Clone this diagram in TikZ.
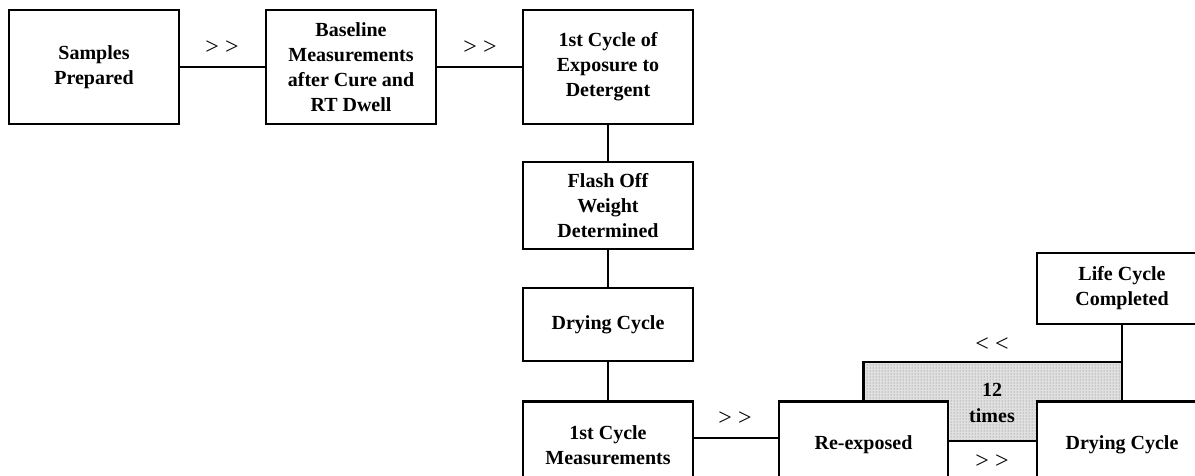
\documentclass[tikz,border=0pt]{standalone}
\usepackage{fontspec}
\setmainfont{Liberation Serif}
\usetikzlibrary{patterns,backgrounds}
\begin{document}
\begin{tikzpicture}[x=1pt,y=-1pt,
  box/.style={draw,line width=2.7pt,fill=white,minimum width=170pt,inner sep=0pt,
              align=center,font=\fontsize{20}{25}\selectfont\bfseries},
  conn/.style={line width=2.4pt},
  lbl/.style={inner sep=0pt,font=\fontsize{24}{24}\selectfont},
  cnt/.style={inner sep=0pt,align=center,font=\fontsize{20}{26}\selectfont\bfseries}]
\useasboundingbox (0,0) rectangle (1195,476);
\clip (0,0) rectangle (1195,476);

% boxes
\node[box,minimum height=114pt] (sp) at (94,67) {Samples\\Prepared};
\node[box,minimum height=114pt] (bl) at (351,67) {Baseline\\Measurements\\after Cure and\\RT Dwell};
\node[box,minimum height=114pt] (ce) at (608,67) {1st Cycle of\\Exposure to\\Detergent};
\node[box,minimum height=87pt] (fo) at (608,205.5) {Flash Off\\Weight\\Determined};
\node[box,minimum height=73pt] (dc) at (608,324.5) {Drying Cycle};
\node[box,minimum height=87pt] (cm) at (608,445) {1st Cycle\\Measurements};
\node[box,minimum height=87pt,minimum width=169pt] (re) at (863.5,445) {Re-exposed};
\node[box,minimum height=87pt] (dr) at (1122,445) {Drying Cycle};
\node[box,minimum height=71pt] (lc) at (1122,288.5) {Life Cycle\\Completed};

% loop coordinate
\coordinate (lp) at (992,362);

% shaded repeat area
\begin{scope}[on background layer]
\fill[white] (0,0) rectangle (1195,476);
\path[fill=black!12,postaction={pattern=dots,pattern color=black!55}]
  (re.north) -- (re.north |- lp) -- (dr.north |- lp) -- (dr.north)
  -- (dr.north west) -- ([yshift=4pt]dr.west) -- ([yshift=4pt]re.east)
  -- (re.north east) -- cycle;
\end{scope}

% connectors
\draw[conn] (sp) -- (bl);
\draw[conn] (bl) -- (ce);
\draw[conn] (ce) -- (fo);
\draw[conn] (fo) -- (dc);
\draw[conn] (dc) -- (cm);
\draw[conn] ([yshift=7pt]cm.east) -- ([yshift=7pt]re.west);
\draw[conn] ([yshift=4pt]re.east) -- ([yshift=4pt]dr.west);
\draw[conn] (lc) -- (dr);
\draw[conn] (re.north) |- (lp) -| (dr.north);

% labels
\node[lbl] (g1) at (222,48) {> >};
\node[lbl] (g2) at (480,48) {> >};
\node[lbl] (g3) at (735,419) {> >};
\node[lbl] (g4) at (992,462) {> >};
\node[lbl] (l1) at (992,345) {< <};
\node[cnt] (tw) at (992,403) {12\\times};
\end{tikzpicture}
\end{document}
